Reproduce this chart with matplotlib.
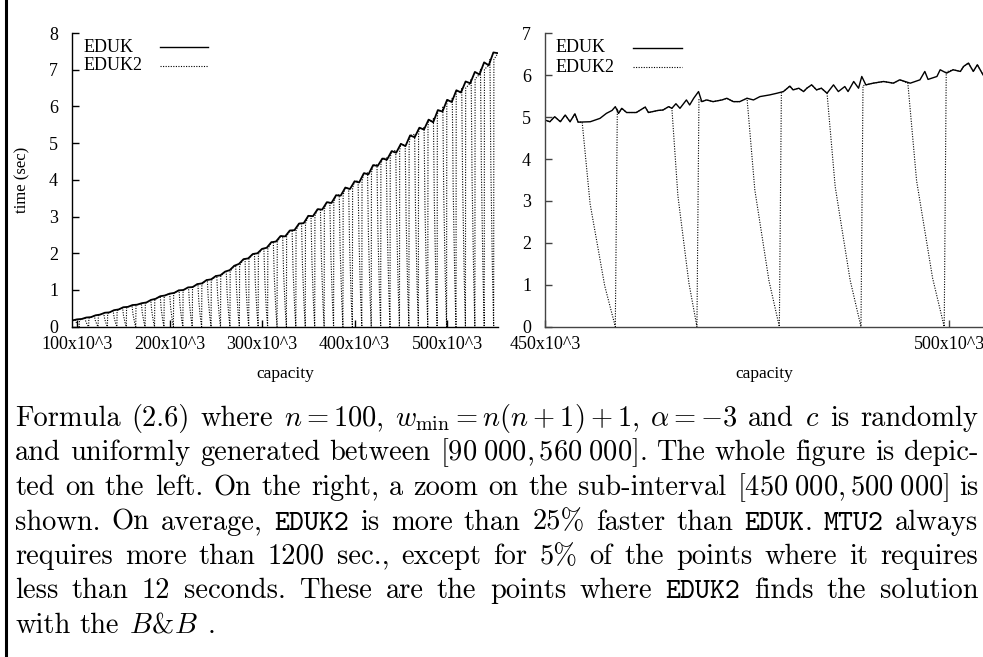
import numpy as np
import matplotlib
matplotlib.use("Agg")
from matplotlib import pyplot as plt

# ---- data (capacity in thousands, time in sec) ----
cap_left = np.arange(95, 556, 5)
eduk_left = [0.17, 0.20, 0.21, 0.25, 0.26, 0.31, 0.33, 0.38, 0.39, 0.45,
             0.47, 0.53, 0.54, 0.59, 0.60, 0.64, 0.66, 0.73, 0.76, 0.83,
             0.85, 0.90, 0.92, 0.99, 1.00, 1.07, 1.08, 1.16, 1.18, 1.27,
             1.29, 1.38, 1.40, 1.50, 1.54, 1.66, 1.71, 1.84, 1.86, 1.98,
             2.00, 2.12, 2.15, 2.30, 2.32, 2.47, 2.46, 2.62, 2.63, 2.81,
             2.82, 3.02, 3.01, 3.20, 3.19, 3.39, 3.37, 3.58, 3.57, 3.79,
             3.75, 3.96, 3.93, 4.18, 4.15, 4.40, 4.38, 4.58, 4.55, 4.78,
             4.74, 4.98, 4.92, 5.21, 5.16, 5.42, 5.37, 5.64, 5.57, 5.90,
             5.86, 6.18, 6.12, 6.44, 6.38, 6.68, 6.63, 6.94, 6.87, 7.20,
             7.12, 7.47, 7.45]

# points where EDUK2 falls to ~0 (bottom of the dotted drop) and the level it leaves from
drop_bottom_left = [102.4, 112.6, 122.8, 132.9, 143.1, 153.3, 163.5, 173.6, 183.8,
                    194.0, 204.2, 214.4, 224.6, 234.7, 244.9, 255.1, 265.3, 275.5,
                    285.6, 295.8, 306.0, 316.2, 326.3, 336.5, 346.7, 356.9, 367.1,
                    377.3, 387.4, 397.6, 407.8, 418.0, 428.2, 438.3, 448.5, 458.7,
                    468.9, 479.1, 489.2, 499.4, 509.6, 519.8, 530.0, 540.1, 550.3]
drop_top_left = [0.18, 0.23, 0.29, 0.36, 0.43, 0.51, 0.58, 0.63, 0.72, 0.82,
                 0.89, 0.97, 1.05, 1.15, 1.26, 1.37, 1.50, 1.67, 1.84, 1.97,
                 2.12, 2.30, 2.46, 2.62, 2.81, 3.02, 3.20, 3.39, 3.59, 3.78,
                 3.97, 4.19, 4.41, 4.60, 4.80, 4.93, 5.24, 5.45, 5.69, 5.98,
                 6.24, 6.50, 6.75, 7.01, 7.28]

cap_right = [450.0, 450.6, 451.2, 451.9, 452.5, 453.1, 453.7, 454.1, 455.6, 456.8,
             457.6, 458.3, 458.7, 459.1, 459.5, 460.1, 461.3, 462.4, 462.8, 464.0,
             464.6, 465.3, 465.7, 466.2, 466.7, 467.5, 467.9, 468.4, 469.0, 469.4,
             470.0, 470.8, 471.9, 472.5, 473.3, 474.1, 475.0, 475.8, 476.6, 477.8,
             478.7, 479.5, 480.3, 480.7, 481.4, 482.0, 482.4, 483.0, 483.6, 484.2,
             484.9, 485.7, 486.3, 487.1, 487.5, 488.2, 488.8, 489.2, 489.7, 490.6,
             491.9, 493.1, 493.9, 495.2, 496.4, 497.0, 497.4, 498.5, 498.9, 499.7,
             500.5, 501.4, 501.8, 502.4, 503.0, 503.5, 504.2]
eduk_right = [4.93, 4.89, 5.01, 4.89, 5.05, 4.89, 5.08, 4.88, 4.89, 4.97,
              5.09, 5.16, 5.25, 5.09, 5.21, 5.11, 5.11, 5.24, 5.11, 5.16,
              5.17, 5.25, 5.21, 5.32, 5.21, 5.41, 5.29, 5.45, 5.61, 5.37,
              5.41, 5.37, 5.41, 5.45, 5.37, 5.37, 5.45, 5.41, 5.49, 5.53,
              5.57, 5.61, 5.74, 5.65, 5.69, 5.61, 5.69, 5.77, 5.65, 5.69,
              5.57, 5.77, 5.61, 5.73, 5.61, 5.85, 5.69, 5.97, 5.77, 5.81,
              5.85, 5.81, 5.89, 5.81, 5.89, 6.09, 5.90, 5.97, 6.13, 6.05,
              6.13, 6.09, 6.21, 6.29, 6.09, 6.25, 6.01]

drop_start_right = [454.6, 465.7, 475.0, 484.9, 494.9]
drop_bottom_right = [458.7, 468.8, 479.0, 489.1, 499.4]
drop_top_right = [4.88, 5.21, 5.45, 5.57, 5.81]
drop_return_right = [5.20, 5.42, 5.60, 5.75, 6.08]

# shape of one drop: position inside the drop (0=start, 1=bottom) -> fraction of start level
drop_pos = [0.0, 0.12, 0.24, 0.46, 0.68, 1.0]
drop_frac = [1.0, 0.8, 0.6, 0.4, 0.2, 0.0]

caption = [
    [["Formula"], ["(2.6)"], ["where"], ["$n=100$,"], [r"$w_{\mathrm{min}}=n(n+1)+1$,"],
     [r"$\alpha=-3$"], ["and"], ["$c$"], ["is"], ["randomly"]],
    [["and"], ["uniformly"], ["generated"], ["between"], [r"$[90\;000,560\;000]$."],
     ["The"], ["whole"], ["figure"], ["is"], ["depic-"]],
    [["ted"], ["on"], ["the"], ["left."], ["On"], ["the"], ["right,"], ["a"], ["zoom"],
     ["on"], ["the"], ["sub-interval"], [r"$[450\;000,500\;000]$"], ["is"]],
    [["shown."], ["On"], ["average,"], [("tt", "EDUK2")], ["is"], ["more"], ["than"],
     ["25%"], ["faster"], ["than"], [("tt", "EDUK"), "."], [("tt", "MTU2")], ["always"]],
    [["requires"], ["more"], ["than"], ["1200"], ["sec.,"], ["except"], ["for"], ["5%"],
     ["of"], ["the"], ["points"], ["where"], ["it"], ["requires"]],
    [["less"], ["than"], ["12"], ["seconds."], ["These"], ["are"], ["the"], ["points"],
     ["where"], [("tt", "EDUK2")], ["finds"], ["the"], ["solution"]],
    [["with"], ["the"], ["$B$", "&", "$B$"], ["."]],
]


def add_drops(cap, val, starts, bottoms, tops, returns):
    cap = np.asarray(cap, float)
    val = np.asarray(val, float)
    keep = np.ones(len(cap), bool)
    for s, b in zip(starts, bottoms):
        keep &= ~((cap >= s) & (cap <= b + 0.3))
    pts = list(zip(cap[keep], val[keep]))
    for s, b, t, r in zip(starts, bottoms, tops, returns):
        for p, f in zip(drop_pos, drop_frac):
            pts.append((s + p * (b - s), t * f))
        pts.append((b + 0.25, r))
    pts.sort()
    return [p[0] for p in pts], [p[1] for p in pts]


plt.rcParams['mathtext.fontset'] = 'cm'
W, H = 983, 657
fig = plt.figure(figsize=(W / 100, H / 100), dpi=100)

TICKFONT = dict(family='Liberation Serif', size=13)
dotted = (0, (1, 1.3))


def style_axes(ax, spine_color):
    for s in ('top', 'right'):
        ax.spines[s].set_visible(False)
    for s in ('left', 'bottom'):
        ax.spines[s].set_color(spine_color)
        ax.spines[s].set_linewidth(1.0)
    ax.tick_params(direction='in', length=5, width=1.0, color=spine_color,
                   labelsize=13)
    ax.tick_params(axis='y', pad=10)
    ax.tick_params(axis='x', pad=6.5)
    for lab in ax.get_xticklabels() + ax.get_yticklabels():
        lab.set_fontfamily('Liberation Serif')
    ax.set_xlabel('capacity', fontdict=dict(family='Liberation Serif', size=12.5))
    ax.xaxis.set_label_coords(0.5, -0.135)


def key(ax, x0, x1, xt, y1, y2):
    ax.text(xt, y1, 'EDUK', transform=ax.transAxes, va='center', ha='left', **TICKFONT)
    ax.text(xt, y2, 'EDUK2', transform=ax.transAxes, va='center', ha='left', **TICKFONT)
    ax.plot([x0, x1], [y1, y1], transform=ax.transAxes, color='black', lw=1.0)
    ax.plot([x0, x1], [y2, y2], transform=ax.transAxes, color='black', lw=0.8,
            linestyle=dotted)


# ---- left: whole interval ----
ax1 = fig.add_axes([72 / W, 1 - 326.7 / H, 426 / W, 293.7 / H])
drop_start_left = [b - 4.0 for b in drop_bottom_left]
x2, y2 = add_drops(cap_left, eduk_left, drop_start_left, drop_bottom_left,
                   drop_top_left, drop_top_left)
ax1.plot(x2, y2, color='black', lw=0.8, linestyle=dotted)
ax1.plot(cap_left, eduk_left, color='black', lw=1.3)
ax1.set_xlim(94.6, 555)
ax1.set_ylim(0, 8)
ax1.set_xticks([100, 200, 300, 400, 500])
ax1.set_xticklabels(['100x10^3', '200x10^3', '300x10^3', '400x10^3', '500x10^3'])
ax1.set_yticks(range(0, 9))
style_axes(ax1, 'black')
ax1.set_ylabel('time (sec)', fontdict=dict(family='Liberation Serif', size=12))
ax1.yaxis.set_label_coords(-0.098, 0.5)
key(ax1, 0.207, 0.319, 0.026, 0.952, 0.888)

# ---- right: zoom on [450 000, 500 000] ----
ax2 = fig.add_axes([545 / W, 1 - 326.7 / H, 438 / W, 293.4 / H])
x2r, y2r = add_drops(cap_right, eduk_right, drop_start_right, drop_bottom_right,
                     drop_top_right, drop_return_right)
ax2.plot(x2r, y2r, color='black', lw=0.8, linestyle=dotted)
ax2.plot(cap_right, eduk_right, color='black', lw=1.0)
ax2.set_xlim(450, 504.2)
ax2.set_ylim(0, 7)
ax2.set_xticks([450, 500])
ax2.set_xticklabels(['450x10^3', '500x10^3'])
ax2.set_yticks(range(0, 8))
style_axes(ax2, '#444444')
key(ax2, 0.201, 0.313, 0.023, 0.951, 0.885)

# ---- left bar of the figure box ----
fig.add_artist(plt.Line2D([5.5 / W, 5.5 / W], [0, 1], transform=fig.transFigure,
                          color='black', lw=2.2))

# ---- caption, justified like the LaTeX source ----
CAP_SIZE = 20.5
rm = dict(family='cmr10', size=CAP_SIZE)
tt = dict(family='cmtt10', size=CAP_SIZE)
renderer = fig.canvas.get_renderer()
x_left, x_right = 15, 978
baselines = [426, 460.5, 495, 529.5, 564, 598.5, 633]

for i, line in enumerate(caption):
    words = []
    for word in line:
        parts = []
        for piece in word:
            font = tt if isinstance(piece, tuple) else rm
            s = piece[1] if isinstance(piece, tuple) else piece
            t = fig.text(0, 0, s, va='baseline', ha='left', **font)
            w = t.get_window_extent(renderer).width
            parts.append((t, w))
        words.append(parts)
    widths = [sum(w for _, w in parts) for parts in words]
    if i < len(caption) - 1:
        gap = (x_right - x_left - sum(widths)) / (len(words) - 1)
    else:
        gap = 0.33 * CAP_SIZE * 100 / 72
    x = x_left
    y = 1 - baselines[i] / H
    for parts, wsum in zip(words, widths):
        xx = x
        for t, w in parts:
            t.set_position((xx / W, y))
            xx += w
        x += wsum + gap

fig.savefig('out.png', dpi=100)
